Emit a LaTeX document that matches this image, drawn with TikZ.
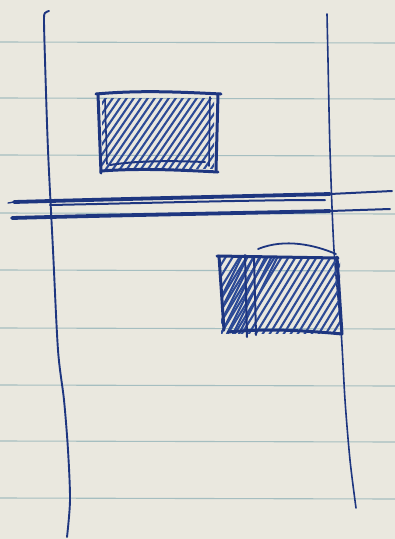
\documentclass[tikz,border=0pt]{standalone}
\definecolor{paper}{RGB}{234,232,223}
\definecolor{rulec}{RGB}{165,190,192}
\definecolor{inkc}{RGB}{30,54,128}
\definecolor{inklt}{RGB}{45,75,150}
\begin{document}
\begin{tikzpicture}[x=1pt,y=-1pt,
  ink/.style={draw=inkc, line cap=round, line join=round},
  rulel/.style={draw=rulec, line width=1.1pt},
  hatch/.style={draw=inklt, line width=2.1pt, line cap=round},
  edge/.style={ink, line width=3pt}]
\fill[paper] (0,0) rectangle (395,539);
\useasboundingbox (0,0) rectangle (395,539);
% ruled paper lines
\foreach \y in {42,98,155,213,270,328,385,441,498}
  \draw[rulel] (0,\y) -- (395,\y+1);
% margin lines
\draw[ink, line width=1.9pt] plot[smooth] coordinates
  {(49,11) (45,13) (44,20) (45,60) (48,150) (53,250) (58,350) (64,400) (68,450) (70,500) (67,537)};
\draw[ink, line width=1.6pt] plot[smooth] coordinates
  {(327,14) (328,60) (330,150) (334,250) (341,330) (345,400) (350,460) (356,508)};
% top box hatching
\begin{scope}
  \clip (102,98) rectangle (214,168);
  \foreach \i in {0,...,22}
    \draw[hatch] (55+\i*7,172) -- ++(55,-80);
\end{scope}
% top box outline
\draw[edge] (96,94) .. controls (140,90) and (180,92) .. (221,94);
\draw[edge] (98,94) -- (101,173);
\draw[edge] (218,94) -- (216,170);
\draw[ink, line width=1.6pt] (210,97) -- (209,166);
\draw[ink, line width=1.6pt] (105,100) -- (107,164);
\draw[edge] (101,171) .. controls (140,168) and (180,170) .. (218,172);
\draw[ink, line width=2pt] (110,165) .. controls (140,160) and (180,161) .. (205,162);
% double horizontal line
\draw[ink, line width=3.8pt] (14,202) .. controls (120,199) and (250,196) .. (330,194);
\draw[ink, line width=1.4pt] (8,203) -- (14,202);
\draw[ink, line width=2pt] (330,194) -- (392,191);
\draw[ink, line width=3.8pt] (12,218) .. controls (120,215) and (250,213) .. (330,211);
\draw[ink, line width=2pt] (330,211) -- (390,209);
\draw[ink, line width=2pt] (50,205) .. controls (150,203) and (250,200) .. (325,200);
% bottom box hatching
\begin{scope}
  \clip (221,257) rectangle (340,333);
  \foreach \i in {0,...,26}
    \draw[hatch] (175+\i*7,340) -- ++(55,-90);
  \foreach \i in {0,...,6}
    \draw[hatch] (200+\i*6,340) -- ++(45,-90);
\end{scope}
% bottom box outline
\draw[ink, line width=1.8pt] (258,249) .. controls (285,238) and (315,245) .. (336,254);
\draw[edge] (217,256) -- (338,258);
\draw[edge] (219,256) -- (224,330);
\draw[edge] (337,257) -- (342,334);
\draw[ink, line width=2pt] (245,255) -- (247,337);
\draw[ink, line width=2pt] (254,256) -- (256,335);
\draw[edge] (228,332) .. controls (270,328) and (310,331) .. (342,334);
\end{tikzpicture}
\end{document}
